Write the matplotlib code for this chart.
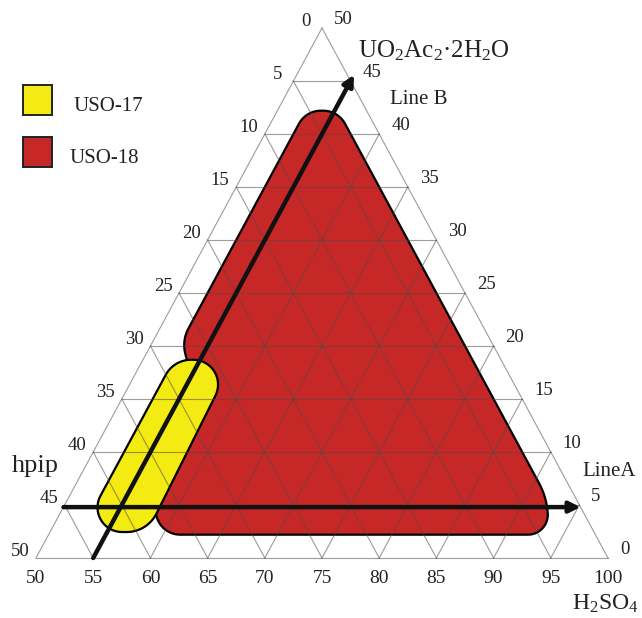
import numpy as np
import matplotlib
matplotlib.use("Agg")
import matplotlib.pyplot as plt
from matplotlib.patches import Polygon, Rectangle

plt.rcParams["font.family"] = ["Liberation Serif", "DejaVu Serif"]
plt.rcParams["mathtext.fontset"] = "custom"
plt.rcParams["mathtext.rm"] = "Liberation Serif"
plt.rcParams["mathtext.it"] = "Liberation Serif:italic"

# ---- data (ternary: H2SO4 + hpip + UO2Ac2.2H2O = 100) ----
h2so4_ticks = [50, 55, 60, 65, 70, 75, 80, 85, 90, 95, 100]
hpip_ticks = [0, 5, 10, 15, 20, 25, 30, 35, 40, 45, 50]
uo2_ticks = [50, 45, 40, 35, 30, 25, 20, 15, 10, 5, 0]

# USO-18 region outline (corners)
red_h2so4 = [52.5, 55.3, 91.7, 93.8, 58.7, 55.1, 52.5]
red_uo2 = [42.2, 42.2, 5.8, 2.2, 2.2, 17.0, 20.5]
# USO-17 region outline (corners)
yel_h2so4 = [52.7, 58.5, 57.9, 52.7]
yel_uo2 = [2.45, 2.45, 18.7, 18.7]

# Line A / Line B
line_a_h2so4 = [50.0, 95.2]
line_a_uo2 = [4.8, 4.8]
line_b_h2so4 = [55.0, 55.0]
line_b_uo2 = [0.0, 45.6]

# corner rounding (tangent length, x units)
red_round = [1.3, 1.3, 1.3, 1.9, 2.8, 0.0, 1.2]
yel_round = [3.6, 1.8, 3.5, 1.5]

W, H = 642, 618
KY = 10.6 / 11.44   # y-unit / x-unit pixel ratio
RED = "#c62828"
YELLOW = "#f3eb12"
GRID = (0.33, 0.28, 0.28)


def to_xy(h2so4, uo2):
    h2so4 = np.asarray(h2so4, float)
    uo2 = np.asarray(uo2, float)
    return h2so4 + uo2 / 2.0, uo2


def rounded_outline(h2so4, uo2, tangents, n=20):
    x, y = to_xy(h2so4, uo2)
    pts = np.column_stack([x, y * KY])
    out = []
    N = len(pts)
    for i in range(N):
        p = pts[i]
        t = tangents[i]
        if t <= 0:
            out.append(p)
            continue
        d1 = pts[i - 1] - p
        d1 = d1 / np.hypot(*d1)
        d2 = pts[(i + 1) % N] - p
        d2 = d2 / np.hypot(*d2)
        th = np.arccos(np.clip(d1 @ d2, -1, 1))
        r = t * np.tan(th / 2)
        bis = (d1 + d2) / np.hypot(*(d1 + d2))
        c = p + bis * t / np.cos(th / 2)
        a = p + t * d1
        b = p + t * d2
        a0 = np.arctan2(a[1] - c[1], a[0] - c[0])
        a1 = np.arctan2(b[1] - c[1], b[0] - c[0])
        diff = (a1 - a0 + np.pi) % (2 * np.pi) - np.pi
        ang = a0 + np.linspace(0, 1, n) * diff
        out.extend(np.column_stack([c[0] + r * np.cos(ang), c[1] + r * np.sin(ang)]))
    out = np.array(out)
    out[:, 1] /= KY
    return out


def fpx(px, py):
    return px / W, 1 - py / H


fig = plt.figure(figsize=(W / 100, H / 100), dpi=100)
ax = fig.add_axes([0, 0, 1, 1])
ax.set_xlim(50 - 36 / 11.44, 50 + (W - 36) / 11.44)
ax.set_ylim((558 - H) / 10.6, 558 / 10.6)
ax.axis("off")

# regions
red = rounded_outline(red_h2so4, red_uo2, red_round)
ax.add_patch(Polygon(red, closed=True, facecolor=RED, edgecolor="black", lw=1.6, zorder=2))
yel = rounded_outline(yel_h2so4, yel_uo2, yel_round)
ax.add_patch(Polygon(yel, closed=True, facecolor=YELLOW, edgecolor="black", lw=1.6, zorder=3))

# grid + frame
for c in uo2_ticks:
    x, y = to_xy([50, 100 - c], [c, c])
    ax.plot(x, y, color=GRID, lw=0.8, alpha=0.55, zorder=4)
for a in h2so4_ticks:
    x, y = to_xy([a, a], [0, 100 - a])
    ax.plot(x, y, color=GRID, lw=0.8, alpha=0.55, zorder=4)
for b in hpip_ticks:
    x, y = to_xy([100 - b, 50], [0, 50 - b])
    ax.plot(x, y, color=GRID, lw=0.8, alpha=0.55, zorder=4)

# Line A / Line B arrows
for hs, uo in [(line_a_h2so4, line_a_uo2), (line_b_h2so4, line_b_uo2)]:
    x, y = to_xy(hs, uo)
    ax.annotate("", xy=(x[1], y[1]), xytext=(x[0], y[0]),
                arrowprops=dict(arrowstyle="-|>", color="#111111", lw=3.2,
                                mutation_scale=16, shrinkA=0, shrinkB=0),
                zorder=6)

# tick labels
for a in h2so4_ticks:
    x, y = to_xy(a, 0)
    ax.annotate(str(a), (x, y), xytext=(0, -14.5), textcoords="offset points",
                ha="center", va="center", fontsize=14, color="#222222")
for b in hpip_ticks:
    x, y = to_xy(50, 50 - b)
    ax.annotate(str(b), (x, y), xytext=(-11.5, 5), textcoords="offset points",
                ha="center", va="center", fontsize=13.5, color="#222222")
for c in uo2_ticks:
    x, y = to_xy(100 - c, c)
    ax.annotate(str(c), (x, y), xytext=(8.6, 5.8), textcoords="offset points",
                ha="left", va="center", fontsize=13.5, color="#222222")

# axis titles and line names
fig.text(*fpx(358, 57), "UO$_2$Ac$_2$·2H$_2$O", fontsize=18, ha="left", va="baseline", color="#222222")
fig.text(*fpx(572, 610), "H$_2$SO$_4$", fontsize=17, ha="left", va="baseline", color="#222222")
fig.text(*fpx(12, 472), "hpip", fontsize=19, ha="left", va="baseline", color="#222222")
fig.text(*fpx(390, 104), "Line B", fontsize=15, ha="left", va="baseline", color="#222222")
fig.text(*fpx(582, 476), "LineA", fontsize=15, ha="left", va="baseline", color="#222222")

# legend
for (py0, col, name, tx) in [(85, YELLOW, "USO-17", 73), (137, RED, "USO-18", 70)]:
    x0, y0 = fpx(23, py0 + 30)
    fig.add_artist(Rectangle((x0, y0), 29 / W, 30 / H, transform=fig.transFigure,
                             facecolor=col, edgecolor="#222222", lw=1.4))
    fig.text(*fpx(tx, py0 + 26), name, fontsize=15, ha="left", va="baseline", color="#222222")

fig.savefig("out.png", dpi=100)
